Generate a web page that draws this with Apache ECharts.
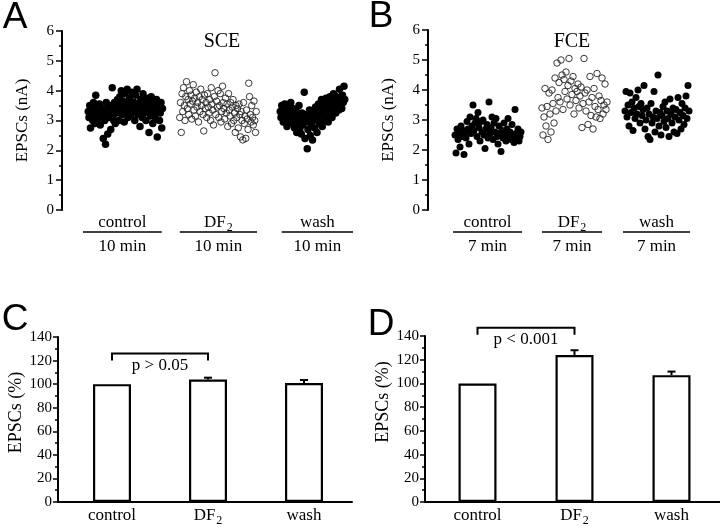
<!DOCTYPE html>
<html><head><meta charset="utf-8">
<script src="https://cdn.jsdelivr.net/npm/echarts@6/dist/echarts.min.js"></script>
<style>html,body{margin:0;padding:0;background:#fff}#c{width:720px;height:527px}</style>
</head><body><div id="c"></div>
<script>
const SERIF = '"Liberation Serif","Times New Roman",serif';
const SANS = '"Liberation Sans",Arial,sans-serif';

// ---------- Panel A (SCE): EPSC amplitude (nA) per sweep ----------
const sceControl = [
3.3,3.1,3.5,2.75,3.2,3.4,3.0,3.6,3.3,2.9,3.85,3.2,3.45,3.05,3.3,3.55,2.85,3.25,3.4,3.1,
2.4,3.35,3.0,2.2,3.6,3.2,2.55,3.45,3.1,3.3,2.7,3.5,4.1,3.15,3.0,3.6,2.9,3.4,3.25,3.7,
3.5,3.0,3.8,3.35,4.0,3.2,3.65,3.45,2.95,3.9,3.55,3.3,4.05,3.1,3.6,3.75,3.4,3.2,3.95,3.5,
3.3,3.6,3.0,3.85,3.45,4.05,3.2,3.55,3.35,2.8,3.7,3.5,3.1,3.9,3.4,3.25,3.65,3.0,3.45,3.75,
3.3,2.6,3.55,3.15,3.8,3.4,2.9,3.6,3.2,3.45,3.05,3.7,2.45,3.35,3.55,3.0,3.25,3.6,2.75,3.4];
const sceDF2 = [
3.1,3.6,2.6,3.9,3.3,4.1,3.5,3.0,3.8,4.3,3.4,3.7,3.2,4.0,3.55,3.85,3.05,3.65,4.2,3.35,
3.75,3.15,3.95,3.45,3.6,2.95,3.8,3.3,4.05,3.5,3.7,3.2,2.65,3.85,3.4,3.6,3.1,3.9,3.45,3.25,
3.7,3.0,4.1,3.55,3.35,2.85,3.8,4.6,3.2,3.65,3.45,4.0,3.1,3.5,3.9,2.95,3.3,4.15,3.6,3.4,
3.05,3.75,3.25,3.55,2.8,3.9,3.35,3.15,3.6,2.9,3.45,3.7,3.0,3.25,2.6,3.5,3.1,3.4,2.75,3.55,
3.2,2.45,3.3,3.0,2.35,3.6,2.9,3.15,2.4,3.35,3.05,2.7,4.25,3.8,3.2,2.95,3.5,3.1,2.85,3.65,
3.0,2.6,3.3];
const sceWash = [
3.3,3.1,3.5,3.2,2.95,3.4,3.55,3.15,3.3,2.8,3.45,3.25,3.0,3.35,3.6,3.1,2.9,3.4,3.2,2.75,
3.05,3.35,2.6,3.15,2.9,3.5,2.7,3.0,2.55,3.25,2.85,3.1,3.95,2.4,2.95,3.2,2.05,2.7,3.05,3.35,
2.5,2.9,3.15,2.35,3.0,3.3,2.75,3.45,3.1,2.6,3.2,3.55,2.9,3.35,3.05,3.7,2.8,3.25,3.5,3.0,
3.4,3.75,3.15,3.6,2.95,3.45,3.8,3.3,3.55,3.1,3.7,3.9,3.4,3.6,3.25,3.8,3.5,3.65,3.35,4.05,
3.55,3.75,3.4,3.85,3.6,4.15,3.7];
const sceStart = [35, 157, 291];               // first sweep of each period
const sceSpans = [[28, 133], [157, 260], [293, 388]]; // period bars (sweeps)
const sceDuration = '10 min';

// ---------- Panel B (FCE) ----------
const fceControl = [
2.5,1.9,2.7,2.35,2.55,2.1,2.8,2.45,2.65,1.85,2.6,2.4,2.95,2.7,2.2,3.1,2.55,2.8,3.5,2.65,
2.9,3.05,2.45,3.25,2.75,2.3,2.95,2.6,3.0,2.5,2.05,2.7,2.85,2.4,3.6,2.55,2.75,3.1,2.35,2.9,
2.6,3.05,2.45,2.2,2.8,2.55,1.95,2.65,2.4,2.9,2.5,2.3,2.7,3.05,2.45,2.6,2.35,2.85,2.5,2.25,
3.35,2.55,2.4,2.7,2.3,2.45,2.6];
const fceDF2 = [
3.4,2.5,3.1,4.05,2.8,3.45,2.35,3.9,3.2,2.6,4.0,3.55,2.9,4.4,3.3,4.9,3.75,4.25,3.6,5.0,
4.5,3.35,4.35,3.95,4.6,3.7,4.15,5.05,3.5,4.3,3.85,4.45,3.2,4.05,3.65,3.95,4.2,3.4,3.8,4.1,
2.75,3.55,5.05,3.9,3.3,4.0,2.85,3.6,4.45,3.15,3.75,2.7,4.05,3.45,3.1,4.55,3.35,3.8,3.05,3.65,
4.4,3.2,3.5,4.2,3.35,3.6];
const fceWash = [
3.3,3.95,3.1,3.5,2.8,3.9,3.25,3.6,2.65,3.4,3.05,3.75,3.2,4.0,3.45,2.9,3.55,3.15,3.35,4.15,
2.7,3.0,3.4,2.45,3.2,2.35,3.55,2.9,3.1,3.95,2.6,3.3,3.05,4.5,2.8,3.25,2.5,3.15,3.45,2.95,
3.6,2.75,3.3,3.05,2.45,3.7,3.2,2.9,3.4,2.6,3.1,3.35,2.55,3.75,3.0,3.25,2.7,3.55,3.15,2.85,
3.4,3.8,3.05,4.15,3.3];
const fceStart = [27, 114, 197];
const fceSpans = [[25, 94], [114, 174], [195, 262]];
const fceDuration = '7 min';

// ---------- Panels C / D: normalized EPSCs (%) ----------
const groups = ['control', 'DF2', 'wash'];
const sceMean = [100, 104, 101];
const sceSem = [0, 1.5, 2.5];
const fceMean = [100, 124, 107];
const fceSem = [0, 4, 3];
const sceP = 'p > 0.05';
const fceP = 'p < 0.001';

// ---------- helpers ----------
const RICH = {
  b: {fontFamily: SERIF, fontSize: 17, fill: '#000', color: '#000', verticalAlign: 'bottom', padding: [0, 0, 3, 0]},
  s: {fontFamily: SERIF, fontSize: 12, fill: '#000', color: '#000', verticalAlign: 'bottom', padding: [0, 0, 0, 1]}
};
function catLabel(v) { return v === 'DF2' ? '{b|DF}{s|2}' : '{b|' + v + '}'; }
function pts(arr, start) { return arr.map((v, i) => [start + i, v]); }

function scatterY(g) {
  return {
    type: 'value', gridIndex: g, min: 0, max: 6, interval: 1,
    axisLine: {show: true, onZero: false, lineStyle: {color: '#000', width: 2}},
    axisTick: {show: true, length: 6, lineStyle: {color: '#000', width: 1.5}},
    minorTick: {show: true, splitNumber: 2, length: 3, lineStyle: {color: '#000', width: 1.5}},
    splitLine: {show: false}, minorSplitLine: {show: false},
    axisLabel: {color: '#000', fontSize: 15, fontFamily: SERIF, margin: 8},
    name: 'EPSCs (nA)', nameLocation: 'middle', nameGap: 31,
    nameTextStyle: {fontSize: 17, fontFamily: SERIF, color: '#000'}
  };
}
function barY(g, off, shift) {
  return {
    type: 'value', gridIndex: g, min: 0, max: 140, interval: 20, offset: off,
    axisLine: {show: true, onZero: false, lineStyle: {color: '#000', width: 2}},
    axisTick: {show: true, length: 5, lineStyle: {color: '#000', width: 1.5}},
    minorTick: {show: true, splitNumber: 2, length: 3, lineStyle: {color: '#000', width: 1.5}},
    splitLine: {show: false}, minorSplitLine: {show: false},
    axisLabel: {color: '#000', fontSize: 15, fontFamily: SERIF, margin: 6},
    name: 'EPSCs (%)', nameLocation: 'middle', nameGap: 29,
    nameTextStyle: {fontSize: 18, fontFamily: SERIF, color: '#000', padding: [0, 0, 0, shift]}
  };
}
function barX(g) {
  return {
    type: 'category', gridIndex: g, data: groups,
    axisLine: {show: true, lineStyle: {color: '#000', width: 2}},
    axisTick: {show: false},
    axisLabel: {margin: 5, formatter: catLabel, rich: RICH}
  };
}
function groupRenderer(duration) {
  return function (params, api) {
    const i = params.dataIndex;
    const s = api.coord([api.value(0), 0]);
    const e = api.coord([api.value(1), 0]);
    const cx = (s[0] + e[0]) / 2, y0 = s[1];
    return {type: 'group', children: [
      {type: 'line', shape: {x1: s[0], y1: y0 + 22, x2: e[0], y2: y0 + 22}, style: {stroke: '#000', lineWidth: 1.3}},
      {type: 'text', style: {text: catLabel(groups[i]), rich: RICH, x: cx, y: y0 + 14, align: 'center', verticalAlign: 'middle'}},
      {type: 'text', style: {text: duration, x: cx, y: y0 + 37, font: '17px ' + SERIF, fill: '#000', align: 'center', verticalAlign: 'middle'}}
    ]};
  };
}
function errRender(params, api) {
  const i = api.value(0), m = api.value(1), e = api.value(2);
  if (!e) return null;
  const p0 = api.coord([i, m]), p1 = api.coord([i, m + e]);
  return {type: 'group', children: [
    {type: 'line', shape: {x1: p0[0], y1: p0[1], x2: p1[0], y2: p1[1]}, style: {stroke: '#000', lineWidth: 2}},
    {type: 'line', shape: {x1: p1[0] - 4, y1: p1[1], x2: p1[0] + 4, y2: p1[1]}, style: {stroke: '#000', lineWidth: 2}}
  ]};
}
function bracketRenderer(label, top, leg, textVal, axisOff) {
  return function (params, api) {
    const a = api.coord([0, top]), b = api.coord([1, top]);
    const l = api.coord([0, leg]), t = api.coord([0, textVal]);
    const o = api.coord([0, 0]);
    const band = api.size([1, 0])[0];
    const gx = o[0] - band / 2;
    return {type: 'group', children: [
      {type: 'polyline', shape: {points: [[a[0], l[1]], [a[0], a[1]], [b[0], b[1]], [b[0], l[1]]]},
        style: {stroke: '#000', lineWidth: 2, fill: null}},
      {type: 'text', style: {text: label, x: (a[0] + b[0]) / 2, y: t[1], font: '17px ' + SERIF, fill: '#000', align: 'center', verticalAlign: 'middle'}},
      {type: 'line', shape: {x1: gx - axisOff - 1, y1: o[1], x2: gx + 1, y2: o[1]}, style: {stroke: '#000', lineWidth: 2}}
    ]};
  };
}
const filled = {color: '#000', opacity: 1, borderWidth: 0};
const hollow = {color: 'rgba(0,0,0,0)', borderColor: '#222', borderWidth: 0.9, opacity: 1};
function letter(t, x, y) {
  return {type: 'text', x: x, y: y, style: {text: t, font: '37px ' + SANS, fill: '#000', align: 'center', verticalAlign: 'middle', textAlign: 'center', textVerticalAlign: 'middle'}};
}
function ptitle(t, x, y) {
  return {type: 'text', x: x, y: y, style: {text: t, font: '20px ' + SERIF, fill: '#000', align: 'center', verticalAlign: 'middle', textAlign: 'center', textVerticalAlign: 'middle'}};
}

const chart = echarts.init(document.getElementById('c'), null, {renderer: 'canvas'});
chart.setOption({
  animation: false,
  backgroundColor: '#fff',
  grid: [
    {left: 62, top: 31, width: 300, height: 179},
    {left: 428, top: 30, width: 292, height: 180},
    {left: 64, top: 337, width: 288, height: 165},
    {left: 429, top: 336, width: 291, height: 166}
  ],
  xAxis: [
    {type: 'value', gridIndex: 0, min: 0, max: 400, show: false},
    {type: 'value', gridIndex: 1, min: 0, max: 292, show: false},
    barX(2), barX(3)
  ],
  yAxis: [scatterY(0), scatterY(1), barY(2, 6, 14), barY(3, 4, 34)],
  series: [
    {type: 'scatter', xAxisIndex: 0, yAxisIndex: 0, symbolSize: 7.5, itemStyle: filled, data: pts(sceControl, sceStart[0])},
    {type: 'scatter', xAxisIndex: 0, yAxisIndex: 0, symbolSize: 6.5, itemStyle: hollow, data: pts(sceDF2, sceStart[1])},
    {type: 'scatter', xAxisIndex: 0, yAxisIndex: 0, symbolSize: 7.5, itemStyle: filled, data: pts(sceWash, sceStart[2])},
    {type: 'scatter', xAxisIndex: 1, yAxisIndex: 1, symbolSize: 7, itemStyle: filled, data: pts(fceControl, fceStart[0])},
    {type: 'scatter', xAxisIndex: 1, yAxisIndex: 1, symbolSize: 6.5, itemStyle: hollow, data: pts(fceDF2, fceStart[1])},
    {type: 'scatter', xAxisIndex: 1, yAxisIndex: 1, symbolSize: 7, itemStyle: filled, data: pts(fceWash, fceStart[2])},
    {type: 'custom', xAxisIndex: 0, yAxisIndex: 0, renderItem: groupRenderer(sceDuration), data: sceSpans},
    {type: 'custom', xAxisIndex: 1, yAxisIndex: 1, renderItem: groupRenderer(fceDuration), data: fceSpans},
    {type: 'bar', xAxisIndex: 2, yAxisIndex: 2, barWidth: 38, itemStyle: {color: '#fff', borderColor: '#000', borderWidth: 2.2}, data: sceMean},
    {type: 'bar', xAxisIndex: 3, yAxisIndex: 3, barWidth: 38, itemStyle: {color: '#fff', borderColor: '#000', borderWidth: 2.2}, data: fceMean},
    {type: 'custom', xAxisIndex: 2, yAxisIndex: 2, z: 5, renderItem: errRender, data: sceMean.map((m, i) => [i, m, sceSem[i]])},
    {type: 'custom', xAxisIndex: 3, yAxisIndex: 3, z: 5, renderItem: errRender, data: fceMean.map((m, i) => [i, m, fceSem[i]])},
    {type: 'custom', xAxisIndex: 2, yAxisIndex: 2, z: 5, renderItem: bracketRenderer(sceP, 126, 120, 116, 6), data: [[0, 0]]},
    {type: 'custom', xAxisIndex: 3, yAxisIndex: 3, z: 5, renderItem: bracketRenderer(fceP, 147, 141, 137, 4), data: [[0, 0]]}
  ],
  graphic: [
    letter('A', 15, 18), letter('B', 381, 17), letter('C', 15, 320), letter('D', 381, 325),
    ptitle('SCE', 222, 42), ptitle('FCE', 572, 42)
  ]
});
</script></body></html>
